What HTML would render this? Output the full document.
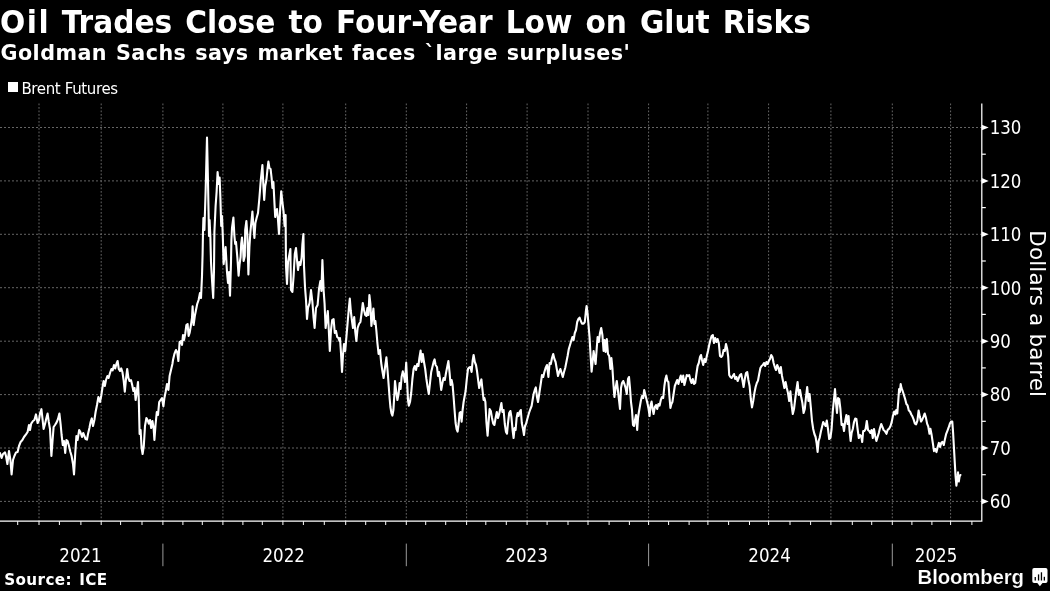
<!DOCTYPE html>
<html lang="en">
<head>
<meta charset="utf-8">
<title>Oil Trades Close to Four-Year Low on Glut Risks</title>
<style>
html,body{margin:0;padding:0;background:#000;}
body{width:1050px;height:591px;position:relative;overflow:hidden;color:#fff;}
.t{position:absolute;white-space:nowrap;line-height:1;color:#fff;}
#title{left:0.3px;top:3.6px;font:bold 31.3px "DejaVu Sans","Liberation Sans",sans-serif;word-spacing:2.83px;transform:scaleX(0.948);transform-origin:0 0;}
#sub{left:0.5px;top:40.6px;font:bold 20.7px "DejaVu Sans","Liberation Sans",sans-serif;letter-spacing:0.45px;word-spacing:1.3px;}
#legend{left:21.4px;top:79.6px;font:15px "DejaVu Sans","Liberation Sans",sans-serif;letter-spacing:-0.36px;}
#sq{position:absolute;left:8px;top:82.2px;width:10.3px;height:10.2px;background:#fff;}
#src{left:4.2px;top:571.1px;font:bold 15.2px "DejaVu Sans","Liberation Sans",sans-serif;letter-spacing:0.4px;word-spacing:1.5px;}
#bb{left:917.6px;top:565.6px;font:bold 20.4px "Liberation Sans",sans-serif;-webkit-text-stroke:0.18px #000;letter-spacing:-0.15px;}
</style>
</head>
<body>
<svg width="1050" height="591" viewBox="0 0 1050 591" style="position:absolute;left:0;top:0">
<g stroke="#707070" stroke-width="0.9" stroke-dasharray="1.75 1.75" fill="none">
<line x1="0" y1="501.4" x2="981.8" y2="501.4" stroke-dasharray="2 2"/>
<line x1="0" y1="448.0" x2="981.8" y2="448.0" stroke-dasharray="2 2"/>
<line x1="0" y1="394.6" x2="981.8" y2="394.6" stroke-dasharray="2 2"/>
<line x1="0" y1="341.2" x2="981.8" y2="341.2" stroke-dasharray="2 2"/>
<line x1="0" y1="287.7" x2="981.8" y2="287.7" stroke-dasharray="2 2"/>
<line x1="0" y1="234.3" x2="981.8" y2="234.3" stroke-dasharray="2 2"/>
<line x1="0" y1="180.9" x2="981.8" y2="180.9" stroke-dasharray="2 2"/>
<line x1="0" y1="127.5" x2="981.8" y2="127.5" stroke-dasharray="2 2"/>
<line x1="39.0" y1="103.5" x2="39.0" y2="521.2"/>
<line x1="101.2" y1="103.5" x2="101.2" y2="521.2"/>
<line x1="162.9" y1="103.5" x2="162.9" y2="521.2"/>
<line x1="222.9" y1="103.5" x2="222.9" y2="521.2"/>
<line x1="282.9" y1="103.5" x2="282.9" y2="521.2"/>
<line x1="345.7" y1="103.5" x2="345.7" y2="521.2"/>
<line x1="406.3" y1="103.5" x2="406.3" y2="521.2"/>
<line x1="466.6" y1="103.5" x2="466.6" y2="521.2"/>
<line x1="527.1" y1="103.5" x2="527.1" y2="521.2"/>
<line x1="588" y1="103.5" x2="588" y2="521.2"/>
<line x1="648.6" y1="103.5" x2="648.6" y2="521.2"/>
<line x1="707.9" y1="103.5" x2="707.9" y2="521.2"/>
<line x1="768.6" y1="103.5" x2="768.6" y2="521.2"/>
<line x1="830.9" y1="103.5" x2="830.9" y2="521.2"/>
<line x1="892.3" y1="103.5" x2="892.3" y2="521.2"/>
<line x1="950.6" y1="103.5" x2="950.6" y2="521.2"/>
</g>
<g stroke="#fff" stroke-width="1.25" fill="none">
<path d="M0,521.2 H981.8 V103.5"/>
</g>
<g stroke="#fff" stroke-width="1">
<line x1="17.7" y1="521.2" x2="17.7" y2="525.0"/>
<line x1="39.0" y1="521.2" x2="39.0" y2="525.0"/>
<line x1="59.4" y1="521.2" x2="59.4" y2="525.0"/>
<line x1="80.9" y1="521.2" x2="80.9" y2="525.0"/>
<line x1="101.2" y1="521.2" x2="101.2" y2="525.0"/>
<line x1="120.6" y1="521.2" x2="120.6" y2="525.0"/>
<line x1="142.0" y1="521.2" x2="142.0" y2="525.0"/>
<line x1="162.9" y1="521.2" x2="162.9" y2="525.0"/>
<line x1="182.9" y1="521.2" x2="182.9" y2="525.0"/>
<line x1="202.3" y1="521.2" x2="202.3" y2="525.0"/>
<line x1="222.9" y1="521.2" x2="222.9" y2="525.0"/>
<line x1="242.9" y1="521.2" x2="242.9" y2="525.0"/>
<line x1="262.3" y1="521.2" x2="262.3" y2="525.0"/>
<line x1="282.9" y1="521.2" x2="282.9" y2="525.0"/>
<line x1="303.4" y1="521.2" x2="303.4" y2="525.0"/>
<line x1="324.3" y1="521.2" x2="324.3" y2="525.0"/>
<line x1="345.7" y1="521.2" x2="345.7" y2="525.0"/>
<line x1="365.7" y1="521.2" x2="365.7" y2="525.0"/>
<line x1="385.7" y1="521.2" x2="385.7" y2="525.0"/>
<line x1="406.3" y1="521.2" x2="406.3" y2="525.0"/>
<line x1="425.7" y1="521.2" x2="425.7" y2="525.0"/>
<line x1="445.7" y1="521.2" x2="445.7" y2="525.0"/>
<line x1="466.6" y1="521.2" x2="466.6" y2="525.0"/>
<line x1="485.8" y1="521.2" x2="485.8" y2="525.0"/>
<line x1="506.3" y1="521.2" x2="506.3" y2="525.0"/>
<line x1="527.1" y1="521.2" x2="527.1" y2="525.0"/>
<line x1="547.1" y1="521.2" x2="547.1" y2="525.0"/>
<line x1="568.0" y1="521.2" x2="568.0" y2="525.0"/>
<line x1="588.0" y1="521.2" x2="588.0" y2="525.0"/>
<line x1="609.1" y1="521.2" x2="609.1" y2="525.0"/>
<line x1="629.4" y1="521.2" x2="629.4" y2="525.0"/>
<line x1="648.6" y1="521.2" x2="648.6" y2="525.0"/>
<line x1="668.6" y1="521.2" x2="668.6" y2="525.0"/>
<line x1="689.1" y1="521.2" x2="689.1" y2="525.0"/>
<line x1="707.9" y1="521.2" x2="707.9" y2="525.0"/>
<line x1="728.6" y1="521.2" x2="728.6" y2="525.0"/>
<line x1="749.5" y1="521.2" x2="749.5" y2="525.0"/>
<line x1="768.6" y1="521.2" x2="768.6" y2="525.0"/>
<line x1="790.0" y1="521.2" x2="790.0" y2="525.0"/>
<line x1="810.6" y1="521.2" x2="810.6" y2="525.0"/>
<line x1="830.9" y1="521.2" x2="830.9" y2="525.0"/>
<line x1="852.3" y1="521.2" x2="852.3" y2="525.0"/>
<line x1="871.7" y1="521.2" x2="871.7" y2="525.0"/>
<line x1="892.3" y1="521.2" x2="892.3" y2="525.0"/>
<line x1="911.9" y1="521.2" x2="911.9" y2="525.0"/>
<line x1="931.9" y1="521.2" x2="931.9" y2="525.0"/>
<line x1="950.6" y1="521.2" x2="950.6" y2="525.0"/>
<line x1="971.9" y1="521.2" x2="971.9" y2="525.0"/>
</g>
<g fill="#fff" stroke="none">
<path d="M981.8,498.6 L988.7,501.4 L981.8,504.2 Z"/>
<path d="M981.8,445.2 L988.7,448.0 L981.8,450.8 Z"/>
<path d="M981.8,391.8 L988.7,394.6 L981.8,397.4 Z"/>
<path d="M981.8,338.4 L988.7,341.2 L981.8,344.0 Z"/>
<path d="M981.8,284.9 L988.7,287.7 L981.8,290.5 Z"/>
<path d="M981.8,231.5 L988.7,234.3 L981.8,237.1 Z"/>
<path d="M981.8,178.1 L988.7,180.9 L981.8,183.7 Z"/>
<path d="M981.8,124.7 L988.7,127.5 L981.8,130.3 Z"/>
</g>
<g stroke="#fff" stroke-width="1.2">
<line x1="981.8" y1="474.7" x2="985.8" y2="474.7"/>
<line x1="981.8" y1="421.3" x2="985.8" y2="421.3"/>
<line x1="981.8" y1="367.9" x2="985.8" y2="367.9"/>
<line x1="981.8" y1="314.4" x2="985.8" y2="314.4"/>
<line x1="981.8" y1="261.0" x2="985.8" y2="261.0"/>
<line x1="981.8" y1="207.6" x2="985.8" y2="207.6"/>
<line x1="981.8" y1="154.2" x2="985.8" y2="154.2"/>
</g>
<g fill="#fff" font-family="'DejaVu Sans Condensed', 'Liberation Sans', sans-serif" font-size="19.9">
<text transform="translate(989.7,508.2) scale(0.93,1)">60</text>
<text transform="translate(989.7,454.8) scale(0.93,1)">70</text>
<text transform="translate(989.7,401.4) scale(0.93,1)">80</text>
<text transform="translate(989.7,348.0) scale(0.93,1)">90</text>
<text transform="translate(989.7,294.6) scale(0.93,1)">100</text>
<text transform="translate(989.7,241.2) scale(0.93,1)">110</text>
<text transform="translate(989.7,187.8) scale(0.93,1)">120</text>
<text transform="translate(989.7,134.3) scale(0.93,1)">130</text>
</g>
<g stroke="#9a9a9a" stroke-width="1">
<line x1="162.9" y1="543.6" x2="162.9" y2="566.2"/>
<line x1="406.3" y1="543.6" x2="406.3" y2="566.2"/>
<line x1="648.6" y1="543.6" x2="648.6" y2="566.2"/>
<line x1="892.3" y1="543.6" x2="892.3" y2="566.2"/>
</g>
<g fill="#fff" font-family="'DejaVu Sans Condensed', 'Liberation Sans', sans-serif" font-size="20.3" text-anchor="middle">
<text transform="translate(80.5,562.1) scale(0.915,1)">2021</text>
<text transform="translate(283.7,562.1) scale(0.915,1)">2022</text>
<text transform="translate(526.6,562.1) scale(0.915,1)">2023</text>
<text transform="translate(769.6,562.1) scale(0.915,1)">2024</text>
<text transform="translate(936.1,562.1) scale(0.915,1)">2025</text>
</g>
<text transform="translate(1030.2,313.7) rotate(90)" text-anchor="middle" fill="#fff" font-family="'DejaVu Sans', 'Liberation Sans', sans-serif" font-size="21.4" letter-spacing="0.2">Dollars a barrel</text>
<path d="M0.0,453.0 L1.6,458.0 L3.0,454.0 L5.0,452.4 L6.0,456.0 L7.4,464.0 L9.0,451.0 L10.4,460.0 L11.6,474.4 L13.0,460.0 L14.4,456.0 L16.0,452.4 L17.6,452.0 L19.0,446.0 L20.6,442.0 L22.4,440.0 L24.0,437.0 L26.0,434.4 L27.6,432.0 L29.0,425.0 L30.0,430.0 L31.2,423.6 L33.0,421.0 L34.4,420.0 L36.0,414.4 L37.6,423.0 L39.0,420.0 L40.0,413.6 L41.4,409.2 L42.4,418.0 L43.6,429.0 L45.0,424.0 L46.4,418.0 L47.6,413.6 L48.8,422.0 L50.0,429.0 L51.4,456.0 L52.6,440.0 L53.6,427.0 L55.0,425.0 L56.6,422.4 L58.0,419.0 L59.4,413.6 L60.6,424.0 L61.6,435.0 L62.8,445.0 L64.0,441.0 L65.2,453.0 L66.4,440.0 L67.6,441.0 L69.0,446.0 L70.4,452.0 L71.6,456.0 L73.0,464.0 L74.0,474.4 L75.2,454.0 L76.4,436.0 L77.6,440.0 L79.2,430.0 L80.4,432.0 L82.0,437.0 L83.2,433.0 L84.4,436.0 L85.6,439.0 L87.0,439.6 L88.0,434.0 L89.4,428.0 L90.6,422.0 L91.8,418.4 L93.0,426.0 L94.4,420.0 L95.6,412.0 L97.0,405.0 L98.4,397.0 L100.0,402.0 L101.2,396.0 L102.4,388.0 L103.6,381.0 L104.8,386.0 L106.0,380.0 L107.4,376.0 L108.6,378.0 L110.0,373.0 L111.4,369.0 L112.6,370.4 L114.0,365.0 L115.2,368.4 L116.4,364.0 L117.6,361.0 L118.8,369.0 L120.0,371.0 L121.2,368.4 L122.4,372.0 L123.6,380.0 L124.8,391.6 L126.0,379.0 L127.2,369.0 L128.4,378.0 L129.6,381.0 L131.0,380.0 L132.2,385.0 L133.4,391.0 L134.6,388.0 L135.6,400.0 L136.8,392.0 L138.0,382.0 L138.8,400.0 L139.6,434.0 L140.6,430.0 L141.6,448.0 L142.6,454.0 L143.8,446.0 L145.0,426.0 L146.4,418.0 L147.6,420.0 L148.8,423.6 L150.0,420.0 L151.2,428.0 L152.4,421.0 L153.6,428.0 L154.4,440.0 L155.6,424.0 L156.8,412.0 L158.0,415.0 L159.2,402.0 L160.6,400.0 L162.0,398.0 L163.4,406.4 L164.4,398.0 L165.6,392.0 L167.0,384.0 L168.4,390.0 L169.6,376.0 L171.0,370.0 L172.4,364.0 L173.0,360.0 L174.4,354.0 L176.0,350.0 L177.2,352.0 L178.4,361.0 L179.6,342.0 L181.0,341.0 L182.0,345.0 L183.0,335.0 L184.0,340.0 L185.2,334.0 L186.4,325.0 L187.6,324.0 L188.6,336.0 L189.6,333.0 L190.8,326.0 L192.0,318.0 L192.6,306.4 L193.6,325.0 L194.8,316.0 L196.0,310.0 L197.2,304.0 L198.6,300.0 L200.0,293.0 L201.0,298.0 L202.0,276.0 L202.6,254.0 L203.0,232.0 L203.4,218.0 L204.4,230.0 L205.6,192.0 L207.0,137.6 L208.0,182.0 L209.0,236.0 L209.6,220.0 L210.4,238.0 L211.0,262.0 L212.0,280.0 L213.2,298.0 L214.0,270.0 L214.4,232.0 L215.6,206.0 L216.6,192.0 L217.6,172.0 L218.6,184.0 L219.6,177.6 L220.4,198.0 L221.2,226.0 L222.0,216.0 L222.8,236.0 L223.6,264.0 L224.8,254.0 L225.6,247.0 L227.0,272.0 L228.0,283.0 L229.0,272.0 L230.0,295.6 L231.0,262.0 L231.4,240.0 L232.0,228.0 L233.4,217.6 L234.4,236.0 L235.2,244.0 L236.0,242.0 L237.4,258.0 L238.6,275.6 L239.6,264.0 L240.6,257.0 L241.2,244.0 L242.0,237.6 L243.0,247.0 L243.6,261.0 L244.8,256.0 L245.2,230.0 L246.4,221.0 L247.4,236.0 L248.4,274.4 L249.4,247.0 L250.4,232.0 L251.4,222.0 L252.4,211.6 L253.4,226.0 L254.4,238.0 L255.4,223.0 L256.6,218.0 L258.0,213.0 L259.4,198.0 L260.8,180.0 L262.4,165.0 L263.4,186.0 L264.2,200.0 L265.2,186.0 L266.4,180.0 L267.4,170.0 L268.4,161.6 L269.4,168.0 L270.6,169.0 L271.6,178.0 L272.4,188.0 L273.4,182.0 L274.4,202.0 L275.2,217.0 L276.0,212.0 L277.0,209.0 L278.0,220.0 L279.0,234.0 L280.0,212.0 L281.2,191.2 L282.4,202.0 L283.6,212.0 L284.6,226.0 L285.6,215.0 L286.0,266.0 L287.0,284.0 L288.0,262.0 L290.4,249.0 L290.6,268.0 L291.0,290.0 L292.4,292.0 L293.6,276.0 L294.8,254.0 L296.0,248.0 L297.0,260.0 L298.0,270.0 L299.2,262.0 L300.4,265.0 L301.6,258.0 L302.4,244.0 L303.4,234.0 L304.0,266.0 L305.0,287.0 L306.0,300.0 L307.0,319.0 L308.0,308.0 L309.6,303.0 L311.0,290.0 L312.4,302.0 L313.6,318.0 L314.6,328.0 L316.0,308.0 L317.6,305.0 L319.0,289.0 L320.4,281.0 L321.4,291.0 L322.4,260.0 L323.6,290.0 L324.6,304.0 L325.6,328.0 L326.8,319.0 L327.8,311.0 L328.8,330.0 L329.8,351.0 L331.0,330.0 L332.2,320.0 L333.6,319.0 L334.8,333.0 L336.0,331.0 L337.2,337.0 L338.4,338.0 L339.6,341.0 L340.0,338.0 L341.0,353.0 L342.0,372.0 L343.0,355.0 L344.0,344.0 L345.2,351.0 L346.4,337.0 L347.6,323.0 L348.8,309.0 L349.8,298.6 L350.8,311.0 L352.0,321.0 L353.0,328.0 L354.2,317.0 L355.2,331.0 L356.4,341.0 L357.6,328.0 L359.0,324.0 L360.4,322.0 L361.6,313.0 L362.8,303.0 L364.0,310.0 L365.2,315.0 L366.4,316.0 L367.4,308.0 L368.4,315.0 L369.4,295.0 L370.4,304.0 L371.4,326.0 L372.4,317.0 L373.4,308.6 L374.4,324.0 L375.4,321.0 L376.4,331.0 L377.4,343.0 L378.6,354.0 L380.0,350.0 L381.2,363.0 L382.4,371.0 L383.6,378.0 L384.8,369.0 L386.4,357.4 L387.6,371.0 L388.8,387.0 L389.6,398.0 L390.4,407.0 L391.4,413.0 L392.4,415.6 L393.4,410.0 L394.4,394.0 L395.0,381.0 L396.4,393.0 L397.4,400.0 L398.6,394.0 L399.6,383.0 L400.6,389.0 L401.6,377.0 L402.8,371.4 L404.0,376.0 L405.0,382.0 L406.2,362.6 L407.2,383.0 L408.0,400.0 L408.8,405.6 L410.0,402.0 L411.2,393.0 L412.4,379.0 L413.6,369.0 L414.8,366.0 L416.0,370.0 L417.2,364.0 L418.4,366.0 L419.4,358.0 L420.6,350.6 L421.6,362.0 L422.8,354.0 L424.0,362.0 L425.2,369.0 L426.4,379.0 L427.6,387.0 L428.8,394.0 L430.0,383.0 L431.2,372.0 L432.4,367.0 L433.6,362.0 L434.6,359.4 L435.6,365.0 L437.0,367.0 L438.0,376.0 L439.0,372.0 L440.0,379.0 L441.2,390.0 L442.4,383.0 L443.6,378.0 L444.8,380.0 L446.0,373.0 L447.2,367.0 L448.4,361.0 L449.6,373.0 L450.6,385.0 L451.6,380.0 L452.6,385.0 L453.6,397.0 L454.4,408.0 L455.6,423.0 L456.6,429.0 L457.6,431.6 L458.6,424.0 L459.6,413.0 L460.6,412.0 L461.6,421.6 L462.6,410.0 L463.6,402.0 L465.6,391.0 L466.8,379.0 L468.0,369.0 L469.2,367.4 L470.4,367.0 L471.6,372.0 L472.6,361.0 L473.6,355.0 L474.8,362.0 L476.0,365.0 L477.0,371.0 L478.0,379.0 L479.2,388.0 L480.4,383.0 L481.4,379.4 L482.4,389.0 L483.6,400.0 L484.4,398.0 L485.4,402.0 L486.4,422.0 L487.6,435.6 L488.6,422.0 L489.6,409.0 L490.8,411.0 L492.0,418.0 L493.2,423.6 L494.4,425.0 L495.6,418.0 L496.8,412.0 L498.0,418.0 L499.2,414.0 L500.4,408.0 L501.4,403.0 L502.4,412.0 L503.6,410.0 L504.8,424.0 L506.0,432.0 L507.0,433.6 L508.0,423.0 L509.2,413.0 L510.4,411.0 L511.4,417.0 L512.6,430.0 L513.6,438.0 L514.6,428.0 L515.6,430.0 L516.6,418.0 L517.6,413.0 L518.6,416.0 L519.6,412.0 L520.8,410.0 L521.8,423.0 L523.0,429.0 L524.0,435.0 L525.0,426.0 L526.0,424.0 L527.6,418.0 L529.0,413.0 L530.4,409.0 L531.6,406.0 L533.6,394.0 L534.8,390.0 L535.8,387.4 L537.0,397.0 L538.0,402.0 L539.2,394.0 L541.0,382.0 L542.0,375.0 L543.2,377.0 L544.4,372.0 L545.6,368.0 L547.0,365.0 L548.4,377.0 L549.6,363.0 L550.8,364.0 L552.0,358.0 L553.2,354.0 L554.4,359.0 L555.6,362.0 L556.8,369.0 L558.0,376.0 L559.2,372.0 L560.4,369.0 L561.6,373.0 L562.8,377.0 L564.0,372.0 L565.2,368.0 L566.4,362.0 L567.6,356.0 L568.8,349.0 L570.0,345.0 L571.2,341.0 L572.4,337.0 L573.6,340.0 L574.8,333.0 L576.0,330.0 L577.2,322.0 L578.4,319.0 L579.6,317.6 L580.8,321.0 L582.0,323.6 L583.6,323.6 L584.8,322.0 L585.8,312.0 L586.6,306.0 L587.6,314.0 L588.6,326.0 L589.6,338.0 L590.6,356.0 L591.6,371.6 L592.6,362.0 L593.6,351.0 L594.6,358.0 L595.6,364.0 L596.6,350.0 L597.6,337.0 L598.8,342.0 L600.0,333.0 L601.2,328.0 L602.4,335.0 L603.6,351.0 L604.6,340.0 L605.6,352.0 L606.8,339.0 L608.0,354.0 L609.2,356.0 L610.4,369.0 L611.4,358.0 L612.4,368.0 L613.4,384.0 L614.4,397.0 L615.6,388.0 L616.8,381.0 L618.0,391.0 L619.0,400.0 L620.0,409.0 L621.0,388.0 L622.0,383.0 L623.2,381.0 L624.4,384.0 L625.6,388.0 L626.8,394.0 L628.0,379.0 L629.0,377.0 L630.0,388.0 L631.0,402.0 L632.0,410.0 L633.0,425.0 L634.0,426.0 L635.0,420.0 L636.0,415.0 L637.2,430.0 L638.0,418.0 L638.4,415.0 L639.6,408.0 L640.8,401.0 L642.0,396.0 L643.2,398.0 L644.2,390.0 L645.2,394.0 L646.4,399.0 L647.6,404.0 L648.6,409.0 L649.6,416.0 L650.6,405.0 L651.6,401.6 L652.6,409.0 L653.6,414.0 L654.8,407.0 L656.0,405.0 L657.2,409.0 L658.4,404.0 L659.6,405.6 L660.8,400.0 L662.0,397.0 L663.2,398.0 L664.4,386.0 L665.4,379.0 L666.4,375.6 L667.4,381.0 L668.4,382.0 L669.4,396.0 L670.4,408.0 L671.4,404.0 L672.4,402.0 L673.6,394.0 L674.8,386.0 L676.0,383.0 L677.2,380.0 L678.4,384.0 L679.6,379.0 L680.8,375.6 L682.0,382.0 L683.2,375.6 L684.4,385.0 L685.6,380.0 L686.8,375.0 L688.0,376.0 L689.2,375.0 L690.4,380.0 L691.6,383.0 L692.8,379.0 L694.0,384.0 L695.2,383.0 L696.4,374.0 L697.6,366.0 L698.8,363.0 L700.0,357.0 L701.0,355.0 L702.0,360.0 L703.2,365.0 L704.4,359.0 L705.6,362.0 L706.8,356.0 L708.0,351.0 L709.2,345.0 L710.4,340.0 L711.6,336.0 L712.8,335.0 L714.0,343.0 L715.2,338.0 L716.4,342.0 L717.6,339.0 L718.8,343.0 L720.0,356.0 L721.2,357.0 L722.4,355.6 L723.6,350.0 L724.8,351.0 L726.0,344.0 L727.2,349.0 L728.2,357.0 L729.2,375.0 L730.4,377.0 L731.6,378.0 L732.8,376.0 L734.0,374.0 L735.2,379.0 L736.4,377.0 L737.6,381.0 L738.8,378.0 L740.0,375.0 L741.2,374.0 L742.4,380.0 L743.6,387.0 L744.8,379.0 L746.0,373.0 L747.2,372.0 L748.4,380.0 L749.6,386.0 L750.8,399.0 L752.0,407.4 L753.2,401.0 L754.4,393.0 L755.6,387.0 L756.8,383.0 L758.0,380.6 L759.2,374.0 L760.4,368.0 L761.6,366.0 L762.8,365.0 L764.0,363.0 L765.2,366.0 L766.4,362.0 L767.6,364.0 L768.8,361.0 L770.0,359.0 L771.2,355.0 L772.4,357.0 L773.6,363.0 L774.8,367.0 L776.0,370.0 L777.2,365.0 L778.4,368.0 L779.6,373.0 L780.8,367.0 L782.0,376.0 L783.2,382.0 L784.4,388.0 L785.6,382.0 L786.8,388.0 L788.0,393.0 L789.2,401.0 L790.4,391.4 L791.6,405.0 L792.8,414.0 L794.0,409.0 L795.2,399.0 L796.4,390.0 L797.6,382.0 L798.8,395.0 L800.0,390.0 L801.2,397.0 L802.4,403.0 L803.6,413.0 L804.8,409.0 L806.0,397.0 L807.2,387.0 L808.4,401.0 L809.6,394.0 L810.8,407.0 L812.0,421.0 L813.2,429.0 L814.4,434.0 L815.6,437.0 L816.6,443.0 L817.6,452.0 L818.6,441.0 L819.6,438.0 L820.8,432.0 L822.0,427.0 L823.2,422.0 L824.4,424.0 L825.6,426.0 L826.8,420.6 L828.0,429.0 L829.2,439.0 L830.4,438.0 L831.6,429.0 L832.8,411.0 L834.0,399.0 L835.0,389.0 L836.0,403.0 L837.0,413.0 L838.0,398.0 L839.2,399.0 L840.4,409.0 L841.6,425.0 L842.8,424.0 L844.0,431.0 L845.2,421.0 L846.4,415.0 L847.6,424.0 L848.6,416.0 L849.6,431.0 L850.6,441.0 L851.6,433.0 L852.8,429.0 L854.0,422.0 L855.2,418.6 L856.4,419.0 L857.6,429.0 L858.8,438.0 L860.0,435.0 L861.2,436.0 L862.2,442.0 L863.2,431.0 L864.4,431.0 L865.6,429.0 L866.8,421.0 L868.0,430.0 L869.2,431.0 L870.4,433.0 L871.6,430.0 L872.8,438.0 L874.0,429.0 L875.2,436.0 L876.4,441.0 L877.6,437.0 L878.8,433.0 L880.0,428.0 L881.2,424.0 L882.4,427.0 L883.6,430.0 L884.8,431.0 L886.0,433.0 L886.5,433.8 L887.7,429.8 L889.1,428.7 L890.6,425.7 L891.8,421.6 L893.0,415.5 L894.2,411.5 L895.4,414.5 L896.2,410.1 L897.3,413.5 L898.3,400.3 L899.1,389.1 L899.9,392.2 L900.7,384.1 L901.5,388.1 L902.7,391.2 L904.0,395.2 L905.2,399.3 L906.4,404.0 L907.6,405.4 L908.8,410.5 L910.0,411.5 L911.3,414.5 L912.5,416.6 L913.7,419.6 L914.9,423.6 L916.1,424.3 L917.4,420.6 L918.6,410.5 L919.8,416.6 L921.0,421.6 L922.2,419.6 L923.5,416.6 L924.7,413.5 L925.9,417.6 L927.1,423.6 L928.3,426.7 L929.5,433.8 L930.4,428.7 L931.6,434.8 L932.8,442.9 L934.0,451.1 L935.2,449.0 L936.5,452.1 L937.7,447.0 L938.9,442.9 L940.1,447.0 L941.3,442.9 L942.5,441.9 L943.8,445.0 L945.0,438.9 L946.2,433.8 L947.4,430.8 L948.6,427.7 L949.9,423.6 L951.1,421.6 L952.3,421.6 L953.1,432.8 L953.9,447.0 L954.7,461.2 L955.5,475.4 L956.4,485.6 L957.2,479.5 L958.0,472.4 L958.8,481.5 L959.6,476.4 L960.4,475.0" fill="none" stroke="#fff" stroke-width="2.1" stroke-linejoin="round" stroke-linecap="round"/>
<path d="M1034.1,568.1 H1045.7 Q1047.5,568.1 1047.5,569.9 V581.3 Q1047.5,583.1 1045.7,583.1 H1042.5 L1039.9,586.2 L1037.3,583.1 H1034.1 Q1032.3,583.1 1032.3,581.3 V569.9 Q1032.3,568.1 1034.1,568.1 Z" fill="#fff"/>
<g fill="#000"><rect x="1034.6" y="577" width="1.3" height="3.5"/><rect x="1037.9" y="574.4" width="1.3" height="6.1"/><rect x="1040.8" y="572.3" width="1.3" height="8.2"/><rect x="1043.7" y="576.8" width="1.3" height="3.7"/></g>
</svg>
<div class="t" id="title"><span style="letter-spacing:1.6px;margin-right:-1.6px">Oil</span> Trades Close to Four-Year Low on Glut Risks</div>
<div class="t" id="sub">Goldman Sachs says market faces `large surpluses'</div>
<div id="sq"></div>
<div class="t" id="legend">Brent Futures</div>
<div class="t" id="src">Source: ICE</div>
<div class="t" id="bb">Bloomberg</div>
</body>
</html>
